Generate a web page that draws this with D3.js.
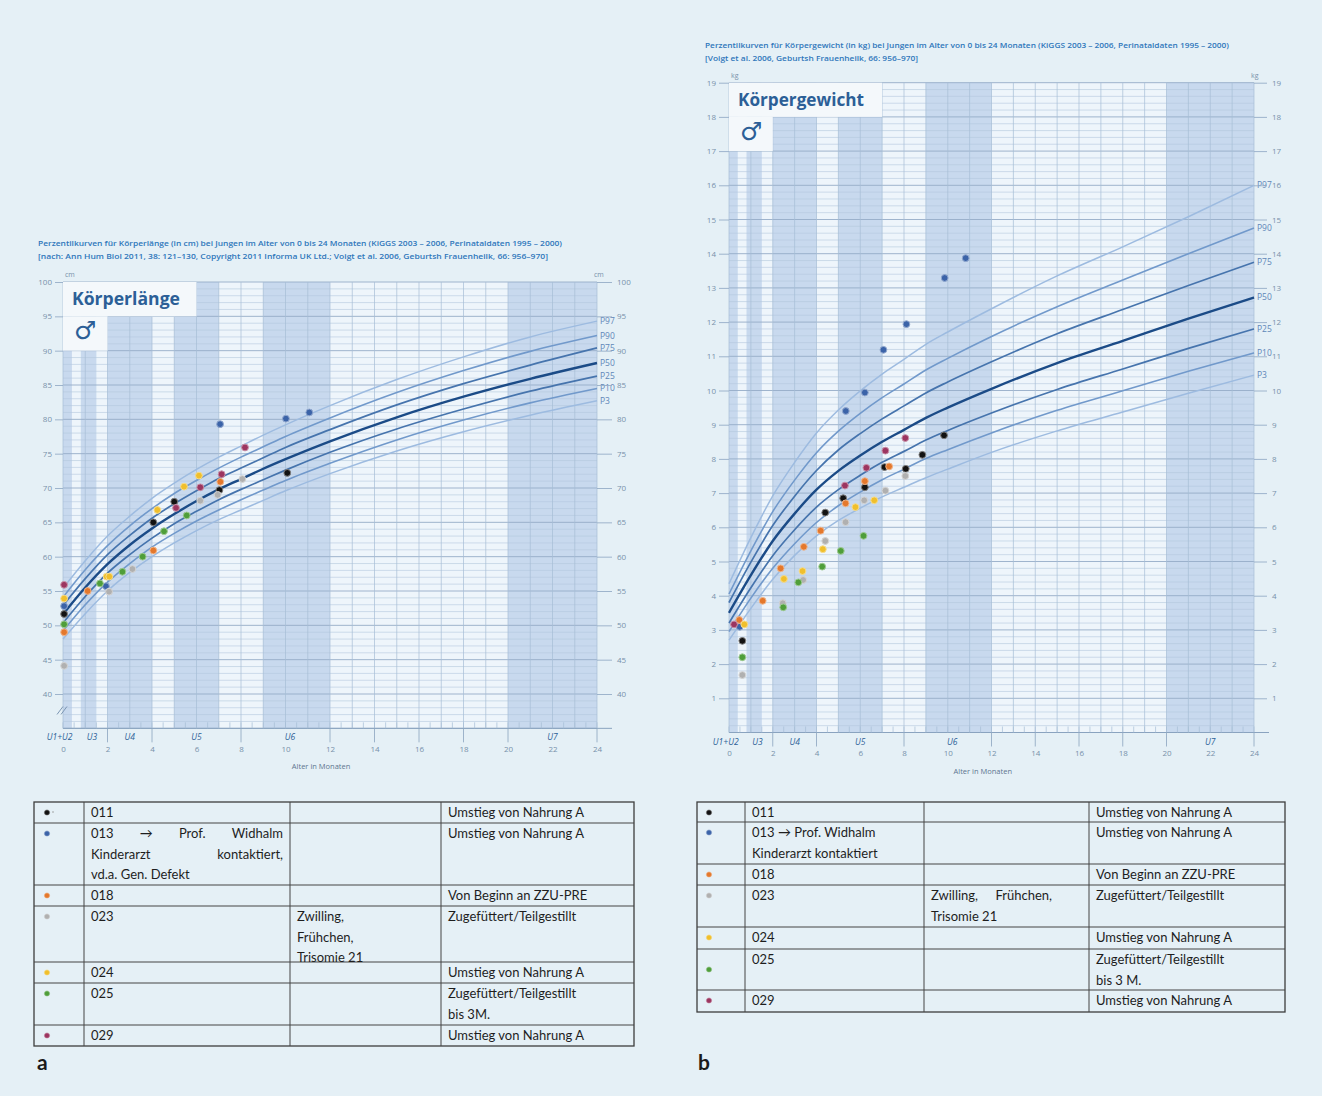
<!DOCTYPE html>
<html>
<head>
<meta charset="utf-8">
<script src="https://cdn.jsdelivr.net/npm/d3@7"></script>
<style>
  body { margin: 0; background: #e5f0f6; }
  svg { display: block; }
</style>
</head>
<body>
<svg id="fig" width="1322" height="1096"></svg>
<script>
// ── Data ────────────────────────────────────────────────
const ageMonths = [0, 1, 2, 3, 4, 5, 6, 7, 8, 9, 10, 12, 15, 18, 21, 24];

// Körperlänge (cm), Perzentilen
const lenP97 = [55.4, 59.4, 63.0, 65.9, 68.5, 70.7, 72.7, 74.5, 76.1, 77.7, 79.2, 82.0, 85.8, 89.1, 92.0, 94.3];
const lenP90 = [54.1, 58.1, 61.6, 64.5, 67.0, 69.2, 71.1, 72.9, 74.5, 76.0, 77.5, 80.2, 83.9, 87.1, 89.9, 92.2];
const lenP75 = [52.9, 56.8, 60.3, 63.1, 65.6, 67.7, 69.6, 71.4, 72.9, 74.4, 75.9, 78.5, 82.1, 85.2, 87.9, 90.4];
const lenP50 = [51.6, 55.5, 58.9, 61.7, 64.1, 66.2, 68.1, 69.8, 71.3, 72.8, 74.2, 76.8, 80.3, 83.3, 85.9, 88.2];
const lenP25 = [50.35, 54.2, 57.6, 60.3, 62.7, 64.8, 66.6, 68.3, 69.8, 71.2, 72.6, 75.2, 78.6, 81.5, 84.1, 86.3];
const lenP10 = [49.2, 53.0, 56.3, 59.0, 61.4, 63.4, 65.2, 66.8, 68.3, 69.7, 71.1, 73.6, 77.0, 79.9, 82.4, 84.5];
const lenP3  = [48.0, 51.7, 55.0, 57.7, 60.0, 62.0, 63.8, 65.4, 66.8, 68.2, 69.6, 72.1, 75.4, 78.2, 80.6, 82.7];

// Körpergewicht (kg), Perzentilen
const wtP97 = [4.35, 5.7, 6.92, 7.9, 8.76, 9.43, 9.99, 10.48, 10.91, 11.35, 11.71, 12.39, 13.35, 14.2, 15.08, 16.0];
const wtP90 = [4.05, 5.31, 6.46, 7.38, 8.18, 8.81, 9.33, 9.79, 10.19, 10.6, 10.94, 11.58, 12.45, 13.23, 14.0, 14.75];
const wtP75 = [3.8, 4.98, 6.05, 6.91, 7.66, 8.26, 8.74, 9.17, 9.55, 9.93, 10.25, 10.84, 11.66, 12.37, 13.07, 13.75];
const wtP50 = [3.5, 4.6, 5.6, 6.4, 7.1, 7.65, 8.1, 8.5, 8.85, 9.2, 9.5, 10.05, 10.8, 11.45, 12.1, 12.72];
const wtP25 = [3.2, 4.23, 5.17, 5.93, 6.59, 7.1, 7.52, 7.9, 8.22, 8.55, 8.83, 9.34, 10.03, 10.63, 11.23, 11.8];
const wtP10 = [2.95, 3.93, 4.8, 5.52, 6.14, 6.63, 7.03, 7.39, 7.7, 8.01, 8.27, 8.76, 9.42, 9.99, 10.56, 11.1];
const wtP3  = [2.7, 3.63, 4.48, 5.18, 5.75, 6.2, 6.56, 6.89, 7.17, 7.45, 7.7, 8.19, 8.82, 9.37, 9.92, 10.45];

const centileNames = ['P97', 'P90', 'P75', 'P50', 'P25', 'P10', 'P3'];

// Vorsorgeuntersuchungen (Monate)
const uBands = [[0, 0.4], [0.8, 1.5], [2, 4], [5, 7], [9, 12], [20, 24]];
const uLabels = ['U1+U2', 'U3', 'U4', 'U5', 'U6', 'U7'];
const uLabelAges = [-0.15, 1.3, 3.0, 6.0, 10.2, 22.0];

const monthTicks = [0, 2, 4, 6, 8, 10, 12, 14, 16, 18, 20, 22, 24];
const lengthTicks = [40, 45, 50, 55, 60, 65, 70, 75, 80, 85, 90, 95, 100];
const weightTicks = [1, 2, 3, 4, 5, 6, 7, 8, 9, 10, 11, 12, 13, 14, 15, 16, 17, 18, 19];

// Messwerte der Kinder: [Alter in Monaten, Wert]
const childIds = ['011', '013', '018', '023', '024', '025', '029'];

const len011 = [[0.05, 51.65], [4.06, 65.0], [5.0, 68.0], [7.03, 69.7], [10.08, 72.2]];
const len013 = [[0.05, 52.8], [1.93, 55.7], [7.06, 79.3], [10.02, 80.1], [11.07, 81.0]];
const len018 = [[0.05, 49.0], [1.11, 55.0], [4.06, 60.9], [7.07, 70.9]];
const len023 = [[0.05, 44.1], [2.07, 54.9], [3.12, 58.2], [6.17, 68.15], [6.95, 69.0], [8.06, 71.3]];
const len024 = [[0.05, 53.9], [1.96, 57.1], [2.08, 57.1], [4.24, 66.8], [5.44, 70.2], [6.11, 71.8]];
const len025 = [[0.05, 50.15], [1.66, 56.1], [2.67, 57.8], [3.58, 60.0], [4.54, 63.7], [5.56, 66.0]];
const len029 = [[0.05, 55.9], [5.08, 67.1], [6.17, 70.1], [7.13, 72.0], [8.18, 75.9]];

const wt011 = [[0.61, 2.68], [4.40, 6.43], [5.22, 6.85], [6.21, 7.17], [7.11, 7.76], [8.08, 7.71], [8.84, 8.12], [9.83, 8.69]];
const wt013 = [[0.49, 3.09], [5.34, 9.40], [6.21, 9.94], [7.06, 11.19], [8.11, 11.94], [9.86, 13.29], [10.82, 13.87]];
const wt018 = [[0.47, 3.29], [1.54, 3.85], [2.36, 4.80], [3.42, 5.43], [4.19, 5.90], [5.33, 6.70], [6.21, 7.35], [7.32, 7.78]];
const wt023 = [[0.61, 1.68], [2.46, 3.78], [3.39, 4.46], [4.40, 5.60], [5.33, 6.15], [6.18, 6.79], [7.15, 7.07], [8.06, 7.50]];
const wt024 = [[0.70, 3.16], [2.51, 4.49], [3.36, 4.72], [4.29, 5.36], [5.78, 6.59], [6.64, 6.79]];
const wt025 = [[0.61, 2.20], [2.48, 3.66], [3.17, 4.39], [4.26, 4.85], [5.11, 5.31], [6.15, 5.75]];
const wt029 = [[0.23, 3.16], [5.30, 7.22], [6.28, 7.74], [7.15, 8.24], [8.06, 8.61]];

// Tabellentexte
const tabA_id = [['011'], ['013 → Prof. Widhalm', 'Kinderarzt kontaktiert,', 'vd.a. Gen. Defekt'], ['018'], ['023'], ['024'], ['025'], ['029']];
const tabA_note = [[], [], [], ['Zwilling,', 'Frühchen,', 'Trisomie 21'], [], [], []];
const tabA_food = [['Umstieg von Nahrung A'], ['Umstieg von Nahrung A'], ['Von Beginn an ZZU-PRE'], ['Zugefüttert/Teilgestillt'],
                   ['Umstieg von Nahrung A'], ['Zugefüttert/Teilgestillt', 'bis 3M.'], ['Umstieg von Nahrung A']];
const tabB_id = [['011'], ['013 → Prof. Widhalm', 'Kinderarzt kontaktiert'], ['018'], ['023'], ['024'], ['025'], ['029']];
const tabB_note = [[], [], [], ['Zwilling,   Frühchen,', 'Trisomie 21'], [], [], []];
const tabB_food = [['Umstieg von Nahrung A'], ['Umstieg von Nahrung A'], ['Von Beginn an ZZU-PRE'], ['Zugefüttert/Teilgestillt'],
                   ['Umstieg von Nahrung A'], ['Zugefüttert/Teilgestillt', 'bis 3 M.'], ['Umstieg von Nahrung A']];

// ── Styles ──────────────────────────────────────────────
const childColor = { '011': '#121212', '013': '#3b63a8', '018': '#e4782c', '023': '#b0b0b0',
                     '024': '#f0bf2c', '025': '#4f9e3a', '029': '#9c3560' };
const centileStyle = { P97: ['#9dbbe0', 1.5], P90: ['#7199cb', 1.6], P75: ['#4674ad', 1.7], P50: ['#1b4b87', 2.4],
                       P25: ['#4674ad', 1.7], P10: ['#7199cb', 1.6], P3: ['#9dbbe0', 1.5] };
const BLUE_TXT = '#2c5f97';
const AXIS_TXT = '#7890aa';
const GRID = '#b3c8dd';
const GRID_MAJOR = '#95adc7';

const svg = d3.select('#fig');

// ── Chart ───────────────────────────────────────────────
function drawChart(o) {
  const g = svg.append('g');
  const x = d3.scaleLinear().domain([0, 24]).range([o.left, o.right]);
  const y = o.y;
  const yTop = y(o.vMax), yBot = y(o.vMin);

  // fond + bandes U
  g.append('rect').attr('x', x(0)).attr('y', yTop).attr('width', x(24) - x(0)).attr('height', yBot - yTop)
    .attr('fill', '#eef5fb');
  g.selectAll('rect.band').data(uBands).join('rect').attr('class', 'band')
    .attr('x', d => x(d[0])).attr('width', d => x(d[1]) - x(d[0]))
    .attr('y', yTop).attr('height', yBot - yTop).attr('fill', '#c8d9ee');

  // grille horizontale
  const n = Math.round((o.vMax - o.vMin) / o.minor);
  const hv = d3.range(n + 1).map(i => o.vMin + i * o.minor);
  const isMajor = v => Math.abs(v / o.major - Math.round(v / o.major)) < 1e-6;
  g.selectAll('line.h').data(hv).join('line').attr('class', 'h')
    .attr('x1', x(0)).attr('x2', x(24)).attr('y1', d => y(d)).attr('y2', d => y(d))
    .attr('stroke', d => isMajor(d) ? GRID_MAJOR : GRID).attr('stroke-width', d => isMajor(d) ? 0.9 : 0.6);

  // grille verticale (chaque mois)
  g.selectAll('line.v').data(d3.range(25)).join('line').attr('class', 'v')
    .attr('x1', d => x(d)).attr('x2', d => x(d)).attr('y1', yTop).attr('y2', yBot)
    .attr('stroke', '#a6bdd6').attr('stroke-width', 0.7);

  // encadré titre
  o.boxes.forEach(b => {
    g.append('rect').attr('x', x(b[0])).attr('width', x(b[1]) - x(b[0]))
      .attr('y', y(b[3])).attr('height', y(b[2]) - y(b[3])).attr('fill', '#f4f8fb');
  });
  g.append('text').attr('x', x(0) + 9).attr('y', y(o.vMax) + 23)
    .attr('font-family', 'Open Sans').attr('font-weight', 700).attr('font-size', 18)
    .attr('fill', BLUE_TXT).attr('textLength', o.titleLen).attr('lengthAdjust', 'spacingAndGlyphs').text(o.title);
  g.append('text').attr('x', x(0) + 11).attr('y', y(o.vMax) + 57)
    .attr('font-family', 'DejaVu Sans').attr('font-weight', 700).attr('font-size', 25)
    .attr('fill', BLUE_TXT).text('♂');

  // courbes percentiles
  const line = d3.line().x((d, i) => x(ageMonths[i])).y(d => y(d)).curve(d3.curveMonotoneX);
  o.curves.forEach((vals, k) => {
    const name = centileNames[k];
    const st = centileStyle[name];
    g.append('path').attr('d', line(vals)).attr('fill', 'none')
      .attr('stroke', st[0]).attr('stroke-width', st[1]);
    g.append('text').attr('x', x(24) + 3).attr('y', y(vals[vals.length - 1])).attr('dy', '0.35em')
      .attr('font-family', 'Open Sans').attr('font-size', 8.5).attr('fill', '#5f87b8').text(name);
  });

  // axes Y
  const styleAxis = s => {
    s.select('.domain').remove();
    s.selectAll('.tick line').attr('stroke', GRID_MAJOR).attr('stroke-width', 0.9);
    s.selectAll('.tick text').attr('fill', AXIS_TXT);
    s.attr('font-family', 'Open Sans').attr('font-size', 8);
  };
  g.append('g').attr('transform', `translate(${x(0)},0)`)
    .call(d3.axisLeft(y).tickValues(o.ticks).tickSize(o.tickL).tickPadding(3)).call(styleAxis);
  g.append('g').attr('transform', `translate(${x(24)},0)`)
    .call(d3.axisRight(y).tickValues(o.ticks).tickSize(o.tickR).tickPadding(5)).call(styleAxis);
  g.append('text').attr('x', x(0) + 2).attr('y', yTop - 5).attr('font-family', 'Open Sans')
    .attr('font-size', 7).attr('fill', AXIS_TXT).text(o.unit);
  g.append('text').attr('x', x(24) - 3).attr('y', yTop - 5).attr('font-family', 'Open Sans')
    .attr('font-size', 7).attr('fill', AXIS_TXT).text(o.unit);

  // axe X
  g.append('line').attr('x1', x(0)).attr('x2', x(24) + 15).attr('y1', yBot).attr('y2', yBot)
    .attr('stroke', '#8aa3bf').attr('stroke-width', 1);
  g.selectAll('line.mt').data(d3.range(49).map(i => i / 2)).join('line').attr('class', 'mt')
    .attr('x1', d => x(d)).attr('x2', d => x(d)).attr('y1', yBot - 6).attr('y2', yBot)
    .attr('stroke', '#a6bdd6').attr('stroke-width', 0.7);
  g.selectAll('line.sep').data(monthTicks.filter(m => ![0, 6, 10, 22].includes(m))).join('line').attr('class', 'sep')
    .attr('x1', d => x(d)).attr('x2', d => x(d)).attr('y1', yBot).attr('y2', yBot + 14)
    .attr('stroke', '#8aa3bf').attr('stroke-width', 0.8);
  g.append('g').attr('transform', `translate(0,${yBot})`)
    .call(d3.axisBottom(x).tickValues(monthTicks).tickSize(0).tickPadding(18))
    .call(s => {
      s.select('.domain').remove();
      s.selectAll('.tick text').attr('fill', AXIS_TXT);
      s.attr('font-family', 'Open Sans').attr('font-size', 8);
    });
  g.selectAll('text.u').data(uLabels).join('text').attr('class', 'u')
    .attr('x', (d, i) => x(uLabelAges[i])).attr('y', yBot + 12).attr('text-anchor', 'middle')
    .attr('font-family', 'Open Sans').attr('font-style', 'italic').attr('font-size', 8.5)
    .attr('fill', BLUE_TXT).text(d => d);
  g.append('text').attr('x', x(11.6)).attr('y', yBot + 41).attr('text-anchor', 'middle')
    .attr('font-family', 'Open Sans').attr('font-size', 7.5).attr('fill', '#5e7690').text('Alter in Monaten');

  if (o.breakAt) {
    [-3, 1].forEach(dx => {
      g.append('line').attr('x1', x(0) + dx - 3).attr('x2', x(0) + dx + 3)
        .attr('y1', y(o.breakAt) + 4).attr('y2', y(o.breakAt) - 4)
        .attr('stroke', '#7d97b4').attr('stroke-width', 1);
    });
  }

  // points des enfants
  o.points.forEach((pts, k) => {
    const c = childColor[childIds[k]];
    g.append('g').selectAll('circle').data(pts).join('circle')
      .attr('cx', d => x(d[0])).attr('cy', d => y(d[1])).attr('r', 3.4)
      .attr('fill', c).attr('stroke', d3.interpolateRgb(c, '#ffffff')(0.45)).attr('stroke-width', 1);
  });

  // titre en haut
  const t = svg.append('g').attr('font-family', 'Open Sans').attr('font-weight', 600)
    .attr('font-size', 7.5).attr('fill', '#2f77bb');
  o.header.forEach((h, i) => {
    t.append('text').attr('x', o.headerX).attr('y', o.headerY + i * 13)
      .attr('textLength', o.headerLen[i]).attr('lengthAdjust', 'spacingAndGlyphs').text(h);
  });
}

drawChart({
  left: 63, right: 597,
  y: d3.scaleLinear().domain([40, 100]).range([694, 282]),
  vMin: 35, vMax: 100, minor: 1, major: 5,
  ticks: lengthTicks, tickL: 8, tickR: 15, unit: 'cm',
  boxes: [[0, 6, 95, 100], [0, 2, 90, 95]],
  title: 'Körperlänge', titleLen: 108,
  curves: [lenP97, lenP90, lenP75, lenP50, lenP25, lenP10, lenP3],
  points: [len011, len013, len018, len023, len024, len025, len029],
  breakAt: 37.6,
  header: ['Perzentilkurven für Körperlänge (in cm) bei Jungen im Alter von 0 bis 24 Monaten (KiGGS 2003 – 2006, Perinataldaten 1995 – 2000)',
           '[nach: Ann Hum Biol 2011, 38: 121–130, Copyright 2011 Informa UK Ltd.; Voigt et al. 2006, Geburtsh Frauenheilk, 66: 956–970]'],
  headerX: 38, headerY: 246, headerLen: [524, 510]
});

drawChart({
  left: 729, right: 1254,
  y: d3.scaleLinear().domain([0, 19]).range([732.5, 82.7]),
  vMin: 0, vMax: 19, minor: 0.2, major: 1,
  ticks: weightTicks, tickL: 10, tickR: 13, unit: 'kg',
  boxes: [[0, 7, 18, 19], [0, 2, 17, 18]],
  title: 'Körpergewicht', titleLen: 126,
  curves: [wtP97, wtP90, wtP75, wtP50, wtP25, wtP10, wtP3],
  points: [wt011, wt013, wt018, wt023, wt024, wt025, wt029],
  breakAt: null,
  header: ['Perzentilkurven für Körpergewicht (in kg) bei Jungen im Alter von 0 bis 24 Monaten (KiGGS 2003 – 2006, Perinataldaten 1995 – 2000)',
           '[Voigt et al. 2006, Geburtsh Frauenheilk, 66: 956–970]'],
  headerX: 705, headerY: 48, headerLen: [524, 213]
});

// ── Tables ──────────────────────────────────────────────
function justifyText(g, str, x0, x1, yb) {
  const words = str.split(/\s+/);
  const ts = words.map(w => g.append('text').attr('y', yb).text(w));
  const widths = ts.map(t => t.node().getComputedTextLength());
  const gap = (x1 - x0 - d3.sum(widths)) / (words.length - 1);
  let cx = x0;
  ts.forEach((t, i) => { t.attr('x', cx); cx += widths[i] + gap; });
}

function drawTable(o) {
  const g = svg.append('g').attr('font-family', 'Lato').attr('font-size', 13).attr('fill', '#1e1e1e');
  const X = o.edgesX, Y = o.edgesY;
  g.append('rect').attr('x', X[0]).attr('y', Y[0]).attr('width', X[4] - X[0]).attr('height', Y[7] - Y[0])
    .attr('fill', 'none').attr('stroke', '#3d3d3d').attr('stroke-width', 1.3);
  Y.slice(1, -1).forEach(yy => g.append('line').attr('x1', X[0]).attr('x2', X[4]).attr('y1', yy).attr('y2', yy)
    .attr('stroke', '#444').attr('stroke-width', 1));
  X.slice(1, -1).forEach(xx => g.append('line').attr('x1', xx).attr('x2', xx).attr('y1', Y[0]).attr('y2', Y[7])
    .attr('stroke', '#444').attr('stroke-width', 1));

  childIds.forEach((id, r) => {
    const top = Y[r];
    const dy = o.centerDot.includes(r) ? (Y[r + 1] - top) / 2 : 10.5;
    g.append('circle').attr('cx', o.dotX).attr('cy', top + dy).attr('r', 2.6)
      .attr('fill', childColor[id]).attr('stroke', d3.interpolateRgb(childColor[id], '#fff')(0.4)).attr('stroke-width', 0.6);
    [o.col1[r], o.col2[r], o.col3[r]].forEach((lines, c) => {
      lines.forEach((s, i) => {
        const yb = top + 15 + i * 20.5;
        const x0 = X[c + 1] + 7;
        const j = o.justify.find(q => q[0] === r && q[1] === c && q[2] === i);
        if (j) justifyText(g, s, x0, j[3], yb);
        else g.append('text').attr('x', x0).attr('y', yb).text(s);
      });
    });
  });
  if (o.extraDot) g.append('circle').attr('cx', o.dotX + 6).attr('cy', Y[0] + 10).attr('r', 0.8).attr('fill', '#999');
  svg.append('text').attr('x', o.labelX).attr('y', 1070).attr('font-family', 'Lato').attr('font-weight', 700)
    .attr('font-size', 21).attr('fill', '#1a1a1a').text(o.label);
}

drawTable({
  edgesX: [34, 84, 290, 441, 634], edgesY: [802, 823, 885, 906, 962, 983, 1025, 1046],
  dotX: 47, centerDot: [], extraDot: true,
  col1: tabA_id, col2: tabA_note, col3: tabA_food,
  justify: [[1, 0, 0, 283], [1, 0, 1, 283]],
  label: 'a', labelX: 37
});

drawTable({
  edgesX: [697, 745, 924, 1089, 1285], edgesY: [802, 822, 864, 885, 927, 949, 990, 1012],
  dotX: 709, centerDot: [5], extraDot: false,
  col1: tabB_id, col2: tabB_note, col3: tabB_food,
  justify: [[3, 1, 0, 1052]],
  label: 'b', labelX: 698
});
</script>
</body>
</html>
